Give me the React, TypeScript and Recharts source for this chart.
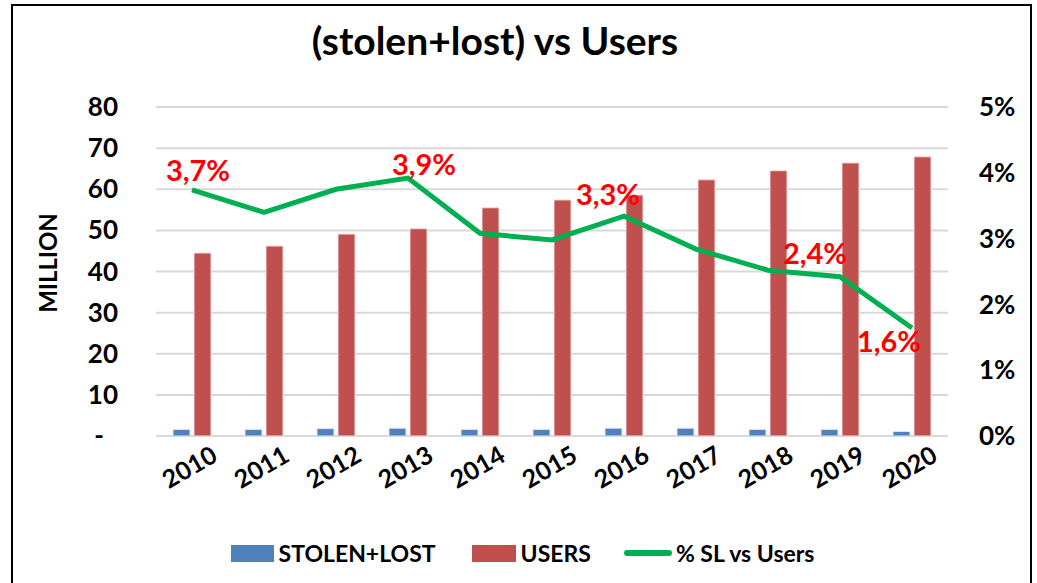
import { ComposedChart, Bar, Line, XAxis, YAxis, CartesianGrid, Legend, LabelList } from 'recharts';

// Datos
const years = ['2010', '2011', '2012', '2013', '2014', '2015', '2016', '2017', '2018', '2019', '2020'];
const stolenLost = [1.6, 1.6, 1.8, 1.9, 1.6, 1.6, 1.9, 1.9, 1.6, 1.6, 1.1];
const users = [44.5, 46.2, 49.1, 50.4, 55.5, 57.4, 58.6, 62.3, 64.5, 66.4, 67.9];
const slVsUsers = [3.74, 3.4, 3.75, 3.92, 3.08, 2.98, 3.34, 2.84, 2.52, 2.42, 1.64];
const labeledYears = ['2010', '2013', '2016', '2019', '2020'];
const leftTicks = [0, 10, 20, 30, 40, 50, 60, 70, 80];
const rightTicks = [0, 1, 2, 3, 4, 5];

const data = years.map((year, i) => ({
	year,
	stolenLost: stolenLost[i],
	users: users[i],
	pct: slVsUsers[i],
}));

// posición de las etiquetas rojas respecto al punto
const labelOffset: Record<string, [number, number]> = {
	'2010': [6, -20],
	'2013': [16, -15],
	'2016': [-16, -23],
	'2019': [-25, -24],
	'2020': [-23, 12],
};

const FONT = 'Lato, "Liberation Sans", sans-serif';
const BLUE = '#4F81BD';
const RED = '#C0504D';
const GREEN = '#00B050';

const LeftTick = ({ x, y, payload }: any) => (
	<text x={payload.value === 0 ? x - 14 : x} y={y} dy='0.35em' textAnchor='end' fontFamily={FONT} fontWeight='bold' fontSize={26} fill='#000'>
		{payload.value === 0 ? '-' : payload.value}
	</text>
);

const RightTick = ({ x, y, payload }: any) => (
	<text x={x} y={y} dy='0.35em' textAnchor='start' fontFamily={FONT} fontWeight='bold' fontSize={26} fill='#000'>
		{`${payload.value}%`}
	</text>
);

const YearTick = ({ x, y, payload }: any) => (
	<text x={x - 3} y={y + 30} dominantBaseline='central' textAnchor='middle' transform={`rotate(-30 ${x - 3} ${y + 30})`} fontFamily={FONT} fontWeight='bold' fontSize={25} fill='#000'>
		{payload.value}
	</text>
);

const PctLabel = ({ x, y, value, index }: any) => {
	const year = years[index];
	if (!labeledYears.includes(year)) return null;
	const [dx, dy] = labelOffset[year];
	return (
		<text x={x + dx} y={y + dy} dominantBaseline='central' textAnchor='middle' fontFamily={FONT} fontWeight='bold' fontSize={29} fill='#FF0000'>
			{`${Number(value).toFixed(1).replace('.', ',')}%`}
		</text>
	);
};

const LegendContent = () => (
	<div style={{ display: 'flex', justifyContent: 'center', alignItems: 'center', fontFamily: FONT, fontWeight: 'bold', fontSize: 23, color: '#000', paddingLeft: 8 }}>
		<span style={{ display: 'inline-block', width: 43, height: 17, background: BLUE, marginRight: 5 }} />
		<span style={{ marginRight: 36 }}>STOLEN+LOST</span>
		<span style={{ display: 'inline-block', width: 44, height: 17, background: RED, marginRight: 5 }} />
		<span style={{ marginRight: 33 }}>USERS</span>
		<span style={{ display: 'inline-block', width: 48, height: 6, background: GREEN, borderRadius: 3, marginRight: 4 }} />
		<span>% SL vs Users</span>
	</div>
);

export default function App() {
	return (
		<div style={{ position: 'absolute', left: 0, top: 0, width: 1037, height: 583, overflow: 'hidden', background: '#fff' }}>
			<div style={{ position: 'absolute', left: 11, top: 4, width: 1021, height: 579, boxSizing: 'border-box', border: '2px solid #000', borderBottom: 'none' }} />
			<div style={{ position: 'absolute', left: 0, top: 17, width: 990, textAlign: 'center', fontFamily: FONT, fontWeight: 'bold', fontSize: 39, color: '#000' }}>
				(stolen+lost) vs Users
			</div>
			<div style={{ position: 'absolute', left: 47, top: 263, transform: 'translate(-50%, -50%) rotate(-90deg)', fontFamily: FONT, fontWeight: 'bold', fontSize: 24, color: '#000', whiteSpace: 'nowrap' }}>
				MILLION
			</div>
			<div style={{ position: 'absolute', left: 0, top: 0 }}>
				<ComposedChart width={1037} height={583} data={data} margin={{ top: 107, right: 0, bottom: 0, left: 0 }} barGap={4} barSize={17}>
					<CartesianGrid yAxisId='left' vertical={false} stroke='#D9D9D9' strokeWidth={2} />
					<XAxis dataKey='year' height={147} axisLine={false} tickLine={false} tickSize={0} tickMargin={0} tick={<YearTick />} interval={0} />
					<YAxis yAxisId='left' width={156} domain={[0, 80]} ticks={leftTicks} axisLine={false} tickLine={false} tickSize={0} tickMargin={38} tick={<LeftTick />} />
					<YAxis yAxisId='right' orientation='right' width={89} domain={[0, 5]} ticks={rightTicks} axisLine={false} tickLine={false} tickSize={0} tickMargin={31} tick={<RightTick />} />
					<Legend layout='horizontal' verticalAlign='middle' align='center' wrapperStyle={{ top: 539, left: 0, width: 1037 }} content={<LegendContent />} />
					<Bar yAxisId='left' dataKey='stolenLost' name='STOLEN+LOST' fill={BLUE} stroke='#DCE6F2' strokeWidth={1} isAnimationActive={false} />
					<Bar yAxisId='left' dataKey='users' name='USERS' fill={RED} stroke='#F2DCDB' strokeWidth={1} isAnimationActive={false} />
					<Line yAxisId='right' type='linear' dataKey='pct' name='% SL vs Users' stroke={GREEN} strokeWidth={5} dot={false} activeDot={false} isAnimationActive={false}>
						<LabelList dataKey='pct' content={<PctLabel />} />
					</Line>
				</ComposedChart>
			</div>
		</div>
	);
}
